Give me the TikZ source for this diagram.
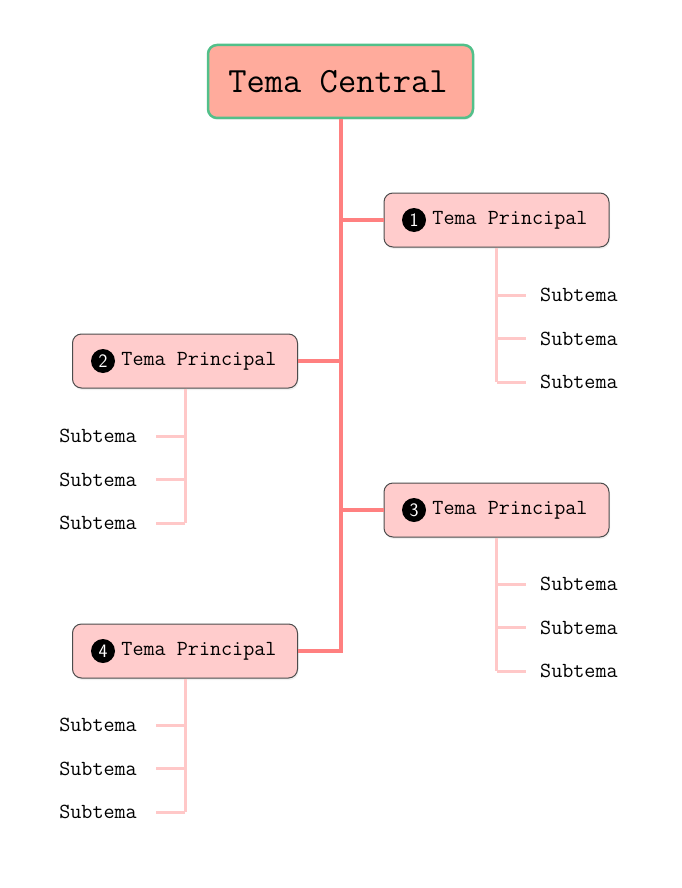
\documentclass[tikz,border=0pt]{standalone}
\usepackage{fontspec}
\usepackage{tikz}
\usetikzlibrary{shapes,shadows}
\definecolor{trunkred}{RGB}{255,128,128}
\definecolor{twigpink}{RGB}{255,200,200}
\definecolor{boxpink}{RGB}{255,204,204}
\definecolor{centfill}{RGB}{255,171,156}
\definecolor{centedge}{RGB}{82,192,138}
\tikzstyle{central}=[rectangle,rounded corners=9pt,draw=centedge,line width=2.5pt,fill=centfill,minimum width=265pt,minimum height=73pt,drop shadow={opacity=0.12,shadow xshift=1pt,shadow yshift=-2pt}]
\tikzstyle{ptopic}=[rectangle,rounded corners=9pt,draw=black!70,line width=1pt,fill=boxpink,minimum width=225pt,minimum height=54pt,drop shadow={opacity=0.12,shadow xshift=1pt,shadow yshift=-2pt}]
\tikzstyle{num}=[circle,fill=black,text=white,inner sep=0pt,minimum size=24pt,font=\sffamily\fontsize{19}{19}\selectfont]
\tikzstyle{ttext}=[inner sep=0pt,font=\ttfamily\fontsize{21.5}{24}\selectfont]
\tikzstyle{trunk}=[draw=trunkred,line width=4pt]
\tikzstyle{twig}=[draw=twigpink,line width=3pt]

\begin{document}
\begin{tikzpicture}[x=1pt,y=-1pt]
\useasboundingbox (0,0) rectangle (682,888);
% centre
\node[central] (C) at (340.5,81.5) {};
\node[inner sep=0pt,font=\ttfamily\fontsize{35.5}{40}\selectfont] (Ct) at (338,81.5) {Tema Central};
% main topics
\node[ptopic] (P1) at (496.5,220) {};
\node[num] (n1) at (414,220) {1};
\node[ttext] (t1) at (510,220) {Tema Principal};
\node[ptopic] (P2) at (185,361) {};
\node[num] (n2) at (103,361) {2};
\node[ttext] (t2) at (199,361) {Tema Principal};
\node[ptopic] (P3) at (496.5,510) {};
\node[num] (n3) at (414,510) {3};
\node[ttext] (t3) at (510,510) {Tema Principal};
\node[ptopic] (P4) at (185,651) {};
\node[num] (n4) at (103,651) {4};
\node[ttext] (t4) at (199,651) {Tema Principal};
% trunk
\coordinate (k1) at (341,220);
\coordinate (k2) at (341,361);
\coordinate (k3) at (341,510);
\coordinate (k4) at (341,651);
\draw[trunk,line join=miter] (C.south -| k1) -- (k4) -- (P4.east);
\draw[trunk] (k1) -- (P1.west);
\draw[trunk] (k2) -- (P2.east);
\draw[trunk] (k3) -- (P3.west);
% subtopics
\foreach \p/\y in {1/295,3/584}{
  \foreach \i in {0,1,2}{
    \node[ttext,anchor=west] (s\p\i) at (540,\y+43.5*\i) {Subtema};
    \draw[twig] (P\p.south |- s\p\i) -- (526,\y+43.5*\i);
  }
  \draw[twig] (P\p.south) -- (P\p.south |- s\p2);
}
\foreach \p/\y in {2/436,4/725}{
  \foreach \i in {0,1,2}{
    \node[ttext,anchor=east] (s\p\i) at (137,\y+43.5*\i) {Subtema};
    \draw[twig] (P\p.south |- s\p\i) -- (156,\y+43.5*\i);
  }
  \draw[twig] (P\p.south) -- (P\p.south |- s\p2);
}
\end{tikzpicture}
\end{document}
